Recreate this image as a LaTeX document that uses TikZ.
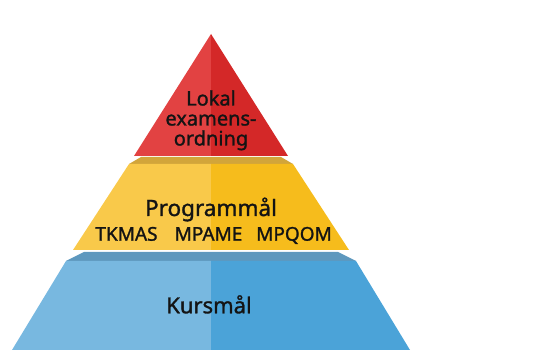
\documentclass[tikz,border=0pt]{standalone}
\usepackage{fontspec}
\setmainfont{Noto Sans}
\newfontfamily\medfont{Noto Sans}[FakeBold=1.3]
\definecolor{redl}{HTML}{E24242}
\definecolor{redr}{HTML}{D42828}
\definecolor{yell}{HTML}{F9C94A}
\definecolor{yelr}{HTML}{F6BC1C}
\definecolor{yeltop}{HTML}{D2A53A}
\definecolor{blul}{HTML}{78B8E0}
\definecolor{blur}{HTML}{4BA3D8}
\definecolor{blutop}{HTML}{5E98BE}
\tikzstyle{level}=[text=black!92, inner sep=0pt, anchor=base, align=center]

\begin{document}
\begin{tikzpicture}[x=1pt,y=-1pt]
                    \useasboundingbox (0,0) rectangle (539,350);
                    % bottom layer
                    \fill[blutop] (66,261) -- (84,252) -- (338,252) -- (356,261) -- cycle;
                    \fill[blul] (66,261) -- (211,261) -- (211,350) -- (12,350) -- cycle;
                    \fill[blur] (211,261) -- (356,261) -- (410,350) -- (211,350) -- cycle;
                    % middle layer
                    \fill[yeltop] (129,164) -- (141,157) -- (281,157) -- (293,164) -- cycle;
                    \fill[yell] (129,164) -- (211,164) -- (211,250) -- (73,250) -- cycle;
                    \fill[yelr] (211,164) -- (293,164) -- (349,250) -- (211,250) -- cycle;
                    % top
                    \fill[redl] (211,34) -- (211,156) -- (134,156) -- cycle;
                    \fill[redr] (211,34) -- (288,156) -- (211,156) -- cycle;
                    \node[level, font=\medfont\fontsize{20}{20}\selectfont] (lokal) at (211,145.5) {Lokal\\examens-\\ordning};
                    \node[level, font=\medfont\fontsize{22.5}{24}\selectfont] (prog) at (211,216) {Programmål};
                    \node[level, font=\medfont\fontsize{19}{20}\selectfont] (tkmas) at (126.5,240.7) {TKMAS};
                    \node[level, font=\medfont\fontsize{19}{20}\selectfont] (mpame) at (208.5,240.7) {MPAME};
                    \node[level, font=\medfont\fontsize{19}{20}\selectfont] (mpqom) at (294,240.7) {MPQOM};
                    \node[level, font=\medfont\fontsize{22}{24}\selectfont] (kurs) at (209,313.3) {Kursmål};
                    \end{tikzpicture}
\end{document}
